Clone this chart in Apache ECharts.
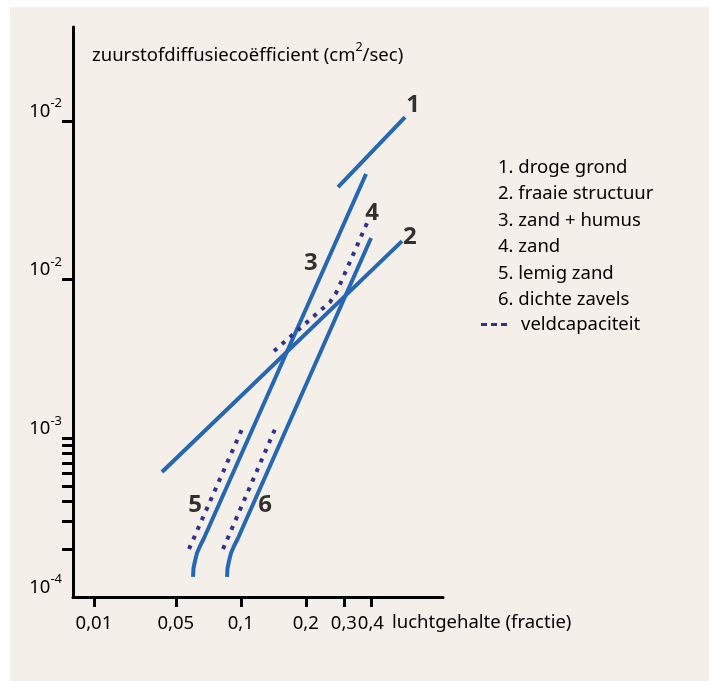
<!DOCTYPE html>
<html>
<head>
<meta charset="utf-8">
<script src="https://cdn.jsdelivr.net/npm/echarts@6/dist/echarts.min.js"></script>
<style>
  html, body { margin: 0; padding: 0; background: #ffffff; }
  #bg { position: absolute; left: 10px; top: 7px; width: 699px; height: 674px; background: #f5efe9; }
  #main { position: absolute; left: 0; top: 0; width: 709px; height: 681px; }
</style>
</head>
<body>
<div id="bg"></div>
<div id="main"></div>
<script>
// curves, [luchtgehalte, diffusiecoefficient]
var droog = [[0.2819, 0.03833], [0.5758, 0.1058]];
var fraai = [[0.04317, 6.134e-4], [0.5577, 0.0175]];
var zandHumus = [[0.06009, 1.337e-4], [0.06041, 1.523e-4], [0.06138, 1.686e-4], [0.06271, 1.894e-4],
  [0.06475, 2.097e-4], [0.06727, 2.321e-4], [0.3800, 0.04628]];
var zavels = [[0.08635, 1.337e-4], [0.08681, 1.523e-4], [0.0882, 1.686e-4], [0.09011, 1.894e-4],
  [0.09305, 2.097e-4], [0.09667, 2.321e-4], [0.4008, 0.01829]];
// veldcapaciteit (dotted)
var veld4 = [[0.1425, 3.549e-3], [0.2588, 7.225e-3], [0.2759, 8.234e-3], [0.2910, 9.66e-3], [0.3840, 0.02273]];
var veld5 = [[0.05758, 2.007e-4], [0.1013, 1.144e-3]];
var veld6 = [[0.08275, 2.007e-4], [0.1440, 1.144e-3]];

// number labels next to the curves
var curveLabels = [[0.627, 0.126, '1'], [0.607, 0.01855, '2'], [0.2113, 0.01272, '3'],
  [0.405, 0.0263, '4'], [0.0614, 3.80e-4, '5'], [0.1295, 3.80e-4, '6']];

var legendNames = ['1. droge grond', '2. fraaie structuur', '3. zand + humus', '4. zand', '5. lemig zand', '6. dichte zavels'];

var xTicks = [0.0209, 0.05, 0.1, 0.2, 0.3, 0.4];
var xTickLabels = ['0,01', '0,05', '0,1', '0,2', '0,3', '0,4'];
var yTicks = [1e-4, 1e-3, 1e-2, 1e-1];
var yExp = ['-4', '-3', '-2', '-2'];
var yMinorTicks = [2e-4, 3e-4, 4e-4, 5e-4, 6e-4, 7e-4, 8e-4, 9e-4];

var blue = '#2567b3';
var navy = '#2e3192';
var ink = '#000000';
var font = 'Noto Sans';
var fs = 18.5;

var chart = echarts.init(document.getElementById('main'));

function nearest(arr, v) {
  var best = 0;
  for (var i = 1; i < arr.length; i++) {
    if (Math.abs(Math.log(arr[i] / v)) < Math.abs(Math.log(arr[best] / v))) best = i;
  }
  return best;
}

function solid(name, data) {
  return {
    name: name, type: 'line', data: data, symbol: 'none', silent: true,
    lineStyle: { color: blue, width: 4 }, itemStyle: { color: blue }
  };
}
function dotted(data) {
  return {
    name: 'veldcapaciteit', type: 'line', data: data, symbol: 'none', silent: true,
    lineStyle: { color: navy, width: 4, type: [4, 6.5] }, itemStyle: { color: navy }
  };
}

var option = {
  animation: false,
  backgroundColor: 'transparent',
  textStyle: { fontFamily: font },
  grid: { left: 73, right: 266, top: 27, bottom: 84 },
  xAxis: {
    type: 'log', logBase: 10, min: 0.01672, max: 0.863,
    splitLine: { show: false },
    axisLine: { lineStyle: { color: '#000', width: 3 } },
    axisTick: { customValues: xTicks, length: 10, lineStyle: { color: '#000', width: 3 } },
    axisLabel: {
      customValues: xTicks, margin: 17, color: ink, fontSize: fs, fontFamily: font,
      formatter: function (v) { return xTickLabels[nearest(xTicks, v)]; }
    }
  },
  yAxis: {
    type: 'log', logBase: 10, min: 1e-4, max: 0.391,
    splitLine: { show: false },
    axisLine: { lineStyle: { color: '#000', width: 3 } },
    axisTick: { customValues: [1e-3, 1e-2, 1e-1].concat(yMinorTicks), length: 11, lineStyle: { color: '#000', width: 3 } },
    axisLabel: {
      customValues: yTicks, margin: 11, verticalAlign: 'bottom',
      formatter: function (v) { return '{b|10}{s|' + yExp[nearest(yTicks, v)] + '}'; },
      rich: {
        b: { fontSize: 18.5, color: ink, fontFamily: font, lineHeight: 24, verticalAlign: 'bottom' },
        s: { fontSize: 13, color: ink, fontFamily: font, lineHeight: 24, verticalAlign: 'top' }
      }
    }
  },
  legend: [{
    orient: 'vertical', left: 468, top: 157, padding: 0, itemGap: 5.5,
    itemWidth: 25, itemHeight: 14, selectedMode: false,
    data: legendNames.map(function (n) { return { name: n, icon: 'none' }; }),
    textStyle: { color: ink, fontSize: fs, lineHeight: 21, fontFamily: font }
  }, {
    orient: 'vertical', left: 481, top: 314, padding: 0,
    itemWidth: 26, itemHeight: 3, selectedMode: false,
    data: [{ name: 'veldcapaciteit', icon: 'path://M0,0h6v3h-6z M10,0h6v3h-6z M20,0h6v3h-6z' }],
    textStyle: { color: ink, fontSize: fs, lineHeight: 21, fontFamily: font, padding: [0, 0, 0, 9] }
  }],
  graphic: [{
    type: 'text', left: 92, top: 41,
    style: {
      text: '{t|zuurstofdiffusieco\u00ebfficient (cm}{s|2}{t|/sec)}',
      rich: {
        t: { fontSize: fs, fill: ink, fontFamily: font, lineHeight: 24, verticalAlign: 'bottom' },
        s: { fontSize: 12.5, fill: ink, fontFamily: font, lineHeight: 24, verticalAlign: 'top' }
      }
    }
  }, {
    type: 'text', left: 392, top: 613,
    style: { text: 'luchtgehalte (fractie)', fontSize: fs, fill: ink, fontFamily: font }
  }],
  series: [
    solid(legendNames[0], droog),
    solid(legendNames[1], fraai),
    solid(legendNames[2], zandHumus),
    solid(legendNames[5], zavels),
    solid(legendNames[3], []),
    solid(legendNames[4], []),
    dotted(veld4),
    dotted(veld5),
    dotted(veld6),
    {
      name: 'nummers', type: 'scatter', silent: true,
      data: curveLabels, symbolSize: 1,
      itemStyle: { color: 'rgba(0,0,0,0)' },
      label: {
        show: true, position: 'inside', color: ink, fontSize: 24, fontWeight: 'bold', fontFamily: font,
        formatter: function (p) { return p.value[2]; }
      }
    }
  ]
};

chart.setOption(option);
</script>
</body>
</html>
